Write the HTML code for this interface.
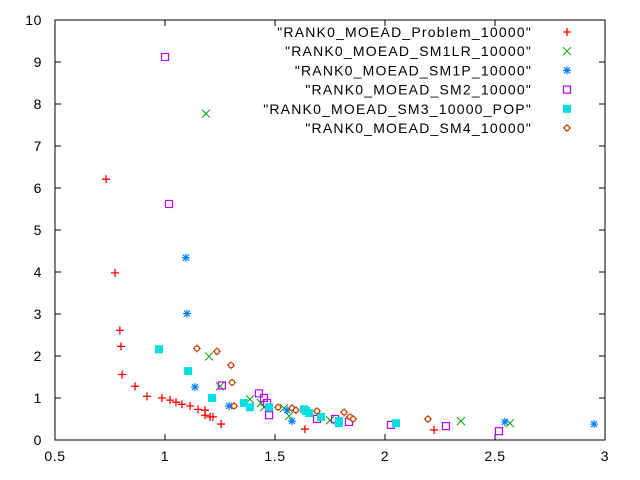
<!DOCTYPE html>
<html><head><meta charset="utf-8"><style>
html,body{margin:0;padding:0;background:#fff;}
svg{display:block;font-family:"Liberation Sans",sans-serif;}
</style></head><body>
<svg id="chart" width="640" height="480" viewBox="0 0 640 480" xmlns="http://www.w3.org/2000/svg">
<g id="axes"></g>
<g id="series"></g>
<g id="legend"></g>
</svg>
<script>
const xTicks=[0.5,1,1.5,2,2.5,3];
const xTickLabels=["0.5","1","1.5","2","2.5","3"];
const yTicks=[0,1,2,3,4,5,6,7,8,9,10];
const yTickLabels=["0","1","2","3","4","5","6","7","8","9","10"];
const seriesNames=['"RANK0_MOEAD_Problem_10000"','"RANK0_MOEAD_SM1LR_10000"','"RANK0_MOEAD_SM1P_10000"','"RANK0_MOEAD_SM2_10000"','"RANK0_MOEAD_SM3_10000_POP"','"RANK0_MOEAD_SM4_10000"'];
const probX=[0.732,0.773,0.795,0.800,0.805,0.864,0.918,0.986,1.023,1.050,1.077,1.114,1.150,1.182,1.182,1.205,1.218,1.255,1.636,2.223];
const probY=[6.21,3.98,2.61,2.23,1.56,1.28,1.04,1.00,0.95,0.90,0.85,0.81,0.73,0.71,0.59,0.55,0.55,0.38,0.26,0.24];
const sm1lrX=[1.186,1.200,1.250,1.386,1.436,1.450,1.541,1.564,1.750,2.345,2.568];
const sm1lrY=[7.77,1.99,1.28,0.97,0.88,0.78,0.76,0.57,0.47,0.45,0.40];
const sm1pX=[1.095,1.100,1.136,1.291,1.555,1.577,2.545,2.950];
const sm1pY=[4.34,3.01,1.26,0.81,0.71,0.45,0.43,0.38];
const sm2X=[1.000,1.018,1.259,1.427,1.450,1.464,1.473,1.691,1.773,1.836,2.027,2.277,2.518];
const sm2Y=[9.12,5.62,1.30,1.11,1.00,0.88,0.59,0.50,0.50,0.43,0.36,0.33,0.21];
const sm3X=[0.973,1.105,1.214,1.359,1.386,1.473,1.632,1.641,1.655,1.709,1.791,1.791,2.050];
const sm3Y=[2.16,1.64,1.00,0.88,0.78,0.78,0.73,0.69,0.64,0.55,0.45,0.40,0.40];
const sm4X=[1.145,1.236,1.300,1.305,1.314,1.514,1.577,1.595,1.691,1.814,1.841,1.855,2.195];
const sm4Y=[2.18,2.11,1.78,1.37,0.81,0.78,0.76,0.71,0.69,0.66,0.55,0.50,0.50];

const L=55,R=605,T=20,B=440;
const sx=v=>L+(v-0.5)/2.5*(R-L);
const sy=v=>B-(v/10)*(B-T);
const NS="http://www.w3.org/2000/svg";
function mk(tag,attrs,parent){const e=document.createElementNS(NS,tag);for(const k in attrs)e.setAttribute(k,attrs[k]);parent.appendChild(e);return e;}
const axes=document.getElementById('axes');
const frame=mk('rect',{x:L,y:T,width:R-L,height:B-T,fill:'none',stroke:'#000','stroke-width':1},axes);


xTicks.forEach((v,i)=>{
  const x=sx(v);
  const t1=mk('line',{x1:x,y1:B,x2:x,y2:B-6,stroke:'#000'},axes);
  
  
  const t2=mk('line',{x1:x,y1:T,x2:x,y2:T+6,stroke:'#000'},axes);
  
  
  const tx=mk('text',{x:x,y:B+21,'text-anchor':'middle','font-size':14,'letter-spacing':0.6,fill:'#000'},axes);
  tx.textContent=xTickLabels[i];
  
  
});
yTicks.forEach((v,i)=>{
  const y=sy(v);
  const t1=mk('line',{x1:L,y1:y,x2:L+6,y2:y,stroke:'#000'},axes);
  
  
  const t2=mk('line',{x1:R,y1:y,x2:R-6,y2:y,stroke:'#000'},axes);
  
  
  const tx=mk('text',{x:L-13,y:y+5,'text-anchor':'end','font-size':14,'letter-spacing':0.6,fill:'#000'},axes);
  tx.textContent=yTickLabels[i];
  
  
});
function marker(type,x,y,g){
  const s=4;
  if(type==='plus'){
    mk('path',{d:`M${x-s} ${y}H${x+s}M${x} ${y-s}V${y+s}`,stroke:'#ff0000','stroke-width':1.3,fill:'none'},g);
  }else if(type==='cross'){
    mk('path',{d:`M${x-s} ${y-s}L${x+s} ${y+s}M${x-s} ${y+s}L${x+s} ${y-s}`,stroke:'#00a000','stroke-width':1,fill:'none'},g);
  }else if(type==='star'){
    mk('path',{d:`M${x-s} ${y}H${x+s}M${x} ${y-s}V${y+s}M${x-3} ${y-3}L${x+3} ${y+3}M${x-3} ${y+3}L${x+3} ${y-3}`,stroke:'#0080ff','stroke-width':1.2,fill:'none'},g);
  }else if(type==='box'){
    mk('rect',{x:x-3.5,y:y-3.5,width:7,height:7,stroke:'#c000ff','stroke-width':1.2,fill:'none'},g);
  }else if(type==='fbox'){
    mk('rect',{x:x-4,y:y-4,width:8,height:8,fill:'#00e0e0'},g);
  }else{
    mk('path',{d:`M${x} ${y-4}V${y+4}M${x-4} ${y}H${x+4}`,stroke:'#c04000','stroke-width':1,fill:'none'},g);
    mk('circle',{cx:x,cy:y,r:2.5,stroke:'#c04000','stroke-width':1.3,fill:'#fff'},g);
  }
}
const seriesG=document.getElementById('series');
const allSeries=[['plus',probX,probY,'series-problem'],['cross',sm1lrX,sm1lrY,'series-sm1lr'],['star',sm1pX,sm1pY,'series-sm1p'],['box',sm2X,sm2Y,'series-sm2'],['fbox',sm3X,sm3Y,'series-sm3-pop'],['circ',sm4X,sm4Y,'series-sm4']];
allSeries.forEach(s=>{
  const g=mk('g',{},seriesG);
  
  
  s[1].forEach((xv,i)=>{
    const pg=mk('g',{},g);
    
    
    marker(s[0],sx(xv),sy(s[2][i]),pg);
  });
});
const leg=document.getElementById('legend');
seriesNames.forEach((n,i)=>{
  const y=32+i*19.2;
  const g=mk('g',{},leg);
  
  
  const t=mk('text',{x:532,y:y+5,'text-anchor':'end','font-size':14,'letter-spacing':1.2,fill:'#000'},g);
  t.textContent=n;
  marker(allSeries[i][0],567,y,g);
});
</script>
</body></html>
